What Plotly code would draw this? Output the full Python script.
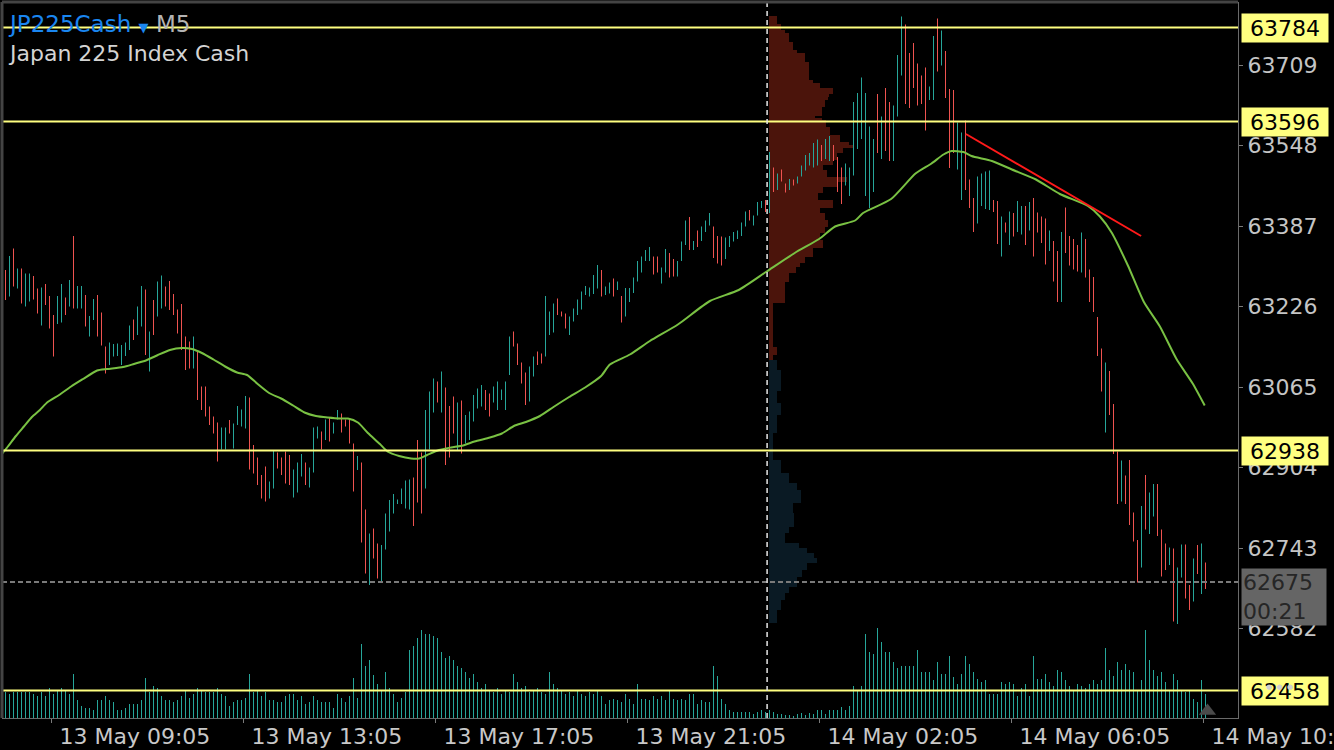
import plotly.graph_objects as go

# ------------------------------------------------------------------ data
bar_high = [
    63299,63327,63342,63302,63302,63292,63292,63287,63262,63264,
    63271,63247,63209,63247,63271,63244,63279,63367,63267,63267,
    63249,63207,63241,63249,63214,63146,63154,63151,63152,63149,
    63154,63188,63200,63226,63267,63260,63176,63239,63276,63288,
    63266,63277,63251,63220,63231,63166,63156,63166,63139,63066,
    63066,63026,63006,62994,62984,62984,62999,62992,63027,63020,
    63047,63044,62949,62924,62889,62906,62876,62938,62934,62924,
    62936,62929,62900,62914,62931,62914,62904,62984,62986,62976,
    63000,63004,62994,63019,63012,63000,63000,62952,62927,62914,
    62820,62772,62782,62752,62749,62812,62839,62851,62840,62862,
    62878,62880,62884,62959,62934,63019,63056,63082,63076,63096,
    63064,63027,63046,63034,63038,63009,63016,63049,63062,63069,
    63059,63052,63066,63076,63060,63076,63166,63176,63152,63114,
    63094,63106,63126,63136,63132,63247,63216,63232,63242,63216,
    63212,63206,63222,63240,63256,63267,63264,63289,63309,63299,
    63266,63274,63282,63276,
    63247,63263,63263,63284,63317,63326,63339,63345,63326,63326,
    63304,63341,63333,63321,63317,63356,63398,63405,63357,63378,
    63386,63398,63413,63386,63367,63366,63364,63367,63375,63378,
    63394,63416,63419,63408,63435,63437,63439,63535,63504,63492,
    63500,63472,63481,63480,63486,63508,63529,63533,63553,63560,
    63549,63561,63567,63549,63525,63504,63512,63504,63635,63653,
    63684,63653,63586,63561,63651,63606,63663,63635,63628,63729,
    63806,63790,63733,63753,63712,63688,63704,63666,63767,63802,
    63778,63737,63661,63659,63594,63574,63598,63480,63443,63486,
    63492,63496,63498,63439,63437,63406,63394,63416,63413,63437,
    63427,63427,63435,63443,63414,63406,63402,63378,63357,63337,
    63375,63424,63367,63361,63349,63374,63361,63300,63285,63205,
    63142,63114,63097,63031,62936,62918,62888,62919,62814,62759,
    62827,62889,62854,62871,62871,62780,62752,62744,62742,62704,
    62750,62750,62669,62722,62749,62752,62714,
]
bar_low = [
    63239,63246,63266,63262,63232,63226,63236,63240,63212,63188,
    63229,63182,63126,63191,63194,63209,63226,63222,63222,63222,
    63186,63166,63199,63166,63148,63092,63109,63126,63127,63109,
    63127,63139,63159,63169,63186,63129,63096,63169,63206,63222,
    63226,63219,63209,63172,63139,63099,63102,63102,63039,63019,
    63006,62989,62972,62916,62940,62940,62972,62942,62989,62986,
    62982,62900,62892,62869,62842,62836,62842,62862,62902,62889,
    62872,62869,62844,62854,62886,62869,62864,62894,62962,62940,
    62959,62956,62972,63000,62974,62986,62952,62856,62899,62754,
    62692,62669,62722,62682,62676,62740,62776,62812,62831,62831,
    62822,62820,62787,62834,62812,62862,62940,63014,63034,63014,
    62909,62924,62972,62939,62932,62952,62959,62996,63022,63026,
    63019,63006,63034,63019,63039,63019,63089,63146,63109,63072,
    63029,63036,63086,63109,63112,63126,63169,63174,63209,63206,
    63182,63169,63196,63209,63220,63249,63246,63251,63262,63246,
    63249,63252,63246,63259,
    63194,63206,63235,63253,63276,63294,63317,63317,63290,63294,
    63272,63294,63284,63286,63286,63317,63349,63339,63339,63345,
    63357,63375,63388,63323,63312,63308,63321,63345,63356,63361,
    63367,63386,63398,63388,63408,63423,63415,63413,63455,63459,
    63476,63454,63459,63468,63472,63486,63498,63508,63504,63508,
    63517,63521,63517,63517,63455,63431,63468,63447,63488,63541,
    63561,63447,63423,63455,63533,63521,63537,63517,63517,63606,
    63688,63631,63623,63663,63628,63631,63578,63639,63639,63696,
    63708,63643,63503,63533,63500,63439,63459,63423,63375,63392,
    63427,63421,63419,63415,63351,63326,63374,63349,63366,63375,
    63370,63349,63378,63326,63374,63353,63310,63337,63276,63235,
    63235,63333,63308,63300,63296,63294,63284,63235,63215,63127,
    63056,62974,63009,62931,62831,62836,62831,62789,62756,62674,
    62704,62780,62771,62806,62767,62686,62699,62709,62596,62591,
    62684,62642,62619,62636,62691,62651,62661,
]
# U = bullish bar, D = bearish bar
bar_dir = (
    "DUDUDUUDDU" "DDDUUDUDUU" "DUUDDDUUUU" "UUDUUDUDUU" "DDDDDDDUDD"
    "DDDDUUDUUU" "UDDDDDUUDD" "DDUUUDUUUD" "UDUUDDDDUD" "DUDDUUUUUU"
    "UUDDDUUUDU" "DDDUDUUUUU" "DDUUUUUDDD" "DUUDDUUUDD" "DUUUUUUUUD"
    "UUDU"
    "DUUUUUUUDD" "UUDDUUUDUD" "UUUDDDUUUU" "UUDUUUDUDU" "DDUDUUUUUU"
    "DUUDDDUUUU" "UUUUDUDDUU" "UDDDDDDUUD" "UDDDUUDDDU" "UUUDDUDUDU"
    "UDUDDDDUDD" "UDDDDUDDDD" "DUDDDUDDDD" "UDUUDDDUDU" "UDDUDUD"
)
volume = [
    26,24,26,26,26,26,26,24,22,26, 22,30,24,28,30,28,24,44,18,12,
    10,10,8,18,18,22,18,16,8,8, 10,14,14,14,18,40,26,32,30,22,
    18,18,16,18,22,28,20,24,30,28, 26,26,26,30,24,22,12,16,18,18,
    20,44,26,28,22,26,18,18,16,16, 22,24,24,18,22,14,16,22,18,16,
    16,16,10,24,20,16,22,40,20,74, 52,58,43,34,28,46,30,24,16,20,
    26,68,72,80,88,84,84,82,80,66, 60,62,
    58,52,50,46,40,44,36,
    30,34,28,26,30,24,28,26,44,36, 30,32,26,28,30,26,24,46,34,30,
    28,24,26,22,28,24,22,26,24,28,
    22,14,18,19,18,16,24,19,14,34, 19,19,18,22,19,22,18,27,19,18,
    19,18,24,24,14,18,16,16,52,42, 19,14,8,6,6,6,6,6,4,6,
    8,6,8,6,4,4,3,3,2, 4,5,3,5,4,8,8,4,8,8,
    8,11,8,12,32,28,32,84,66,64, 90,76,66,66,56,50,52,52,52,52,
    68,46,46,46,38,56,44,44,62,41, 34,44,62,54,46,39,36,38,24,24,
    24,36,34,36,34,22,30,34,22, 62,39,39,44,36,32,48,46,38,
    32,28,34,32,30,34,38,34,38,70, 48,42,56,48,54,48,46,28,38,88,
    58,48,42,46,36,28,44,38,28,26, 28,19,16,38,24,
]
ma_index = [-1.4,0.6,2.6,4.6,6.6,8.6,10.4,13.4,16.4,19.4,22.9,25.4,29.4,32.1,35.1,
            38.1,41.1,44.1,46.6,49.1,52.0,54.9,57.9,60.4,62.9,65.9,68.9,71.9,74.75,
            77.6,80.6,83.6,85.6,88.1,90.6,93.6,95.5,98.4,101.4,103.4,105.4,108.4,
            111.4,114.4,117.25,121.1,124.1,127.1,130.1,133.6,137.0,140.9,144.9,148.9,
            151.1,156.1,161.1,168.1,176.1,183.3,190.3,197.3,203.4,207.4,212.4,214.4,
            221.4,227.5,231.5,234.5,236.5,239.5,241.5,246.6,251.6,257.6,263.6,270.6,
            273.6,276.6,280.6,284.6,288.6,292.75,296.8,299.8]
ma_value = [62926,62946,62967,62986,63005,63019,63034,63049,63066,63081,63098,63101,
            63105,63111,63118,63129,63139,63143,63141,63133,63120,63106,63094,63089,
            63072,63053,63042,63028,63014,63007,63004,63002,63002,62994,62973,62951,
            62936,62927,62922,62922,62929,62939,62944,62948,62956,62964,62972,62987,
            62995,63007,63025,63045,63064,63087,63110,63130,63157,63190,63237,63259,
            63296,63333,63361,63386,63398,63413,63441,63492,63512,63530,63537,63535,
            63527,63517,63500,63480,63451,63427,63406,63373,63308,63235,63186,63121,
            63072,63028]

# session volume profile (price band top / bottom, volume)
prof_up_top = [63807,63791,63779,63773,63755,63739,63733,63715,63679,63673,63663,63651,
               63645,63639,63625,63607,63603,63599,63585,63569,63555,63549,63543,63533,
               63519,63509,63499,63485,63475,63465,63453,63439,63423,63413,63399,63385,
               63373,63359,63343,63325,63313,63305,63293,63275,63233,63145,63129]
prof_up_bot = prof_up_top[1:] + [63119]
prof_up_vol = [8,12,16,20,24,28,36,40,44,51,64,60,59,56,53,46,53,57,61,71,80,84,74,68,
               64,54,58,78,68,54,49,64,51,56,59,56,51,54,44,36,31,27,20,16,4,8,4]
prof_dn_top = [63119,63099,63057,63033,63009,62973,62919,62893,62873,62859,62833,62813,
               62785,62773,62753,62743,62733,62723,62713,62699,62685,62665,62653,62639,
               62619]
prof_dn_bot = prof_dn_top[1:] + [62593]
prof_dn_vol = [8,12,8,12,8,4,12,20,28,32,24,25,20,16,30,38,45,48,38,33,28,20,16,12,8]

levels = [63784, 63596, 62938, 62458]
current_price = 62675
countdown = "00:21"
price_ticks = [63709, 63548, 63387, 63226, 63065, 62904, 62743, 62582]
time_tick_pos = [11.6, 59.6, 107.6, 155.6, 203.6, 251.6, 299.6]
time_tick_labels = ["13 May 09:05", "13 May 13:05", "13 May 17:05", "13 May 21:05",
                    "14 May 02:05", "14 May 06:05", "14 May 10:05"]
trend_index = [240.1, 283.9]
trend_value = [63571, 63367]
session_start = 190.4

# ------------------------------------------------------------------ styles
UP = "#26a69a"
DN = "#ef5350"
FONT = "DejaVu Sans"
N = len(bar_high)

fig = go.Figure()

# volume profile
prof_base = session_start + 0.5
for tops, bots, vols, col in [(prof_up_top, prof_up_bot, prof_up_vol, "#4b140b"),
                              (prof_dn_top, prof_dn_bot, prof_dn_vol, "#0a1a24")]:
    fig.add_trace(go.Bar(
        orientation="h",
        y=[(t + b) / 2 for t, b in zip(tops, bots)],
        width=[t - b for t, b in zip(tops, bots)],
        x=[v / 4 for v in vols],
        base=prof_base,
        marker=dict(color=col, line=dict(width=0)),
        hoverinfo="skip",
    ))

# volume bars
vx, vy = [], []
for i, v in enumerate(volume):
    vx += [i, i, None]
    vy += [0, v, None]
fig.add_trace(go.Scatter(x=vx, y=vy, yaxis="y2", mode="lines",
                         line=dict(color=UP, width=1), hoverinfo="skip"))

# price bars
for d, col in [("U", UP), ("D", DN)]:
    xs, ys = [], []
    for i in range(N):
        if bar_dir[i] == d:
            xs += [i, i, None]
            ys += [bar_low[i], bar_high[i], None]
    fig.add_trace(go.Scatter(x=xs, y=ys, mode="lines",
                             line=dict(color=col, width=1), hoverinfo="skip"))

# moving average
fig.add_trace(go.Scatter(x=ma_index, y=ma_value, mode="lines",
                         line=dict(color="#79c143", width=2, shape="spline", smoothing=0.6),
                         hoverinfo="skip"))
# trend line
fig.add_trace(go.Scatter(x=trend_index, y=trend_value, mode="lines",
                         line=dict(color="#ff1a1a", width=2), hoverinfo="skip"))
# shift marker
fig.add_trace(go.Scatter(x=[N - 0.5], y=[7], yaxis="y2", mode="markers",
                         marker=dict(symbol="triangle-up", size=15, color="#4a4a4a"),
                         hoverinfo="skip"))

shapes = []
for lv in levels:
    shapes.append(dict(type="line", xref="paper", x0=0, x1=1, yref="y", y0=lv, y1=lv,
                       line=dict(color="#ffff80", width=2)))
shapes.append(dict(type="line", xref="paper", x0=0, x1=1, yref="y",
                   y0=current_price, y1=current_price,
                   line=dict(color="#7a7a7a", width=2, dash="5px,3px")))
shapes.append(dict(type="line", xref="x", x0=session_start, x1=session_start,
                   yref="paper", y0=0, y1=1,
                   line=dict(color="#e6e6e6", width=1.5, dash="5px,4px")))
# frame (top / left)
shapes.append(dict(type="line", xref="paper", x0=0, x1=1, yref="paper", y0=1, y1=1,
                   line=dict(color="#444444", width=3)))
shapes.append(dict(type="line", xref="paper", x0=0, x1=0, yref="paper", y0=0, y1=1,
                   line=dict(color="#444444", width=3)))

annotations = []
annotations.append(dict(
    xref="paper", yref="paper", x=0, y=1, xanchor="left", yanchor="top",
    xshift=4, yshift=-7, showarrow=False,
    text='<span style="color:#1a86f0">JP225Cash</span> '
         '<span style="color:#1a86f0;font-size:13px">▼</span> '
         '<span style="color:#b4b4b4">M5</span>',
    font=dict(family=FONT, size=23)))
annotations.append(dict(
    xref="paper", yref="paper", x=0, y=1, xanchor="left", yanchor="top",
    xshift=4, yshift=-37, showarrow=False, text="Japan 225 Index Cash",
    font=dict(family=FONT, size=22, color="#d4d4d4")))
for lv in levels:
    annotations.append(dict(
        xref="paper", yref="y", x=1, y=lv, xanchor="left", yanchor="middle",
        xshift=3, showarrow=False, text=str(lv), bgcolor="#ffff80",
        width=82, height=24, borderpad=2,
        font=dict(family=FONT, size=22, color="#000000")))
annotations.append(dict(
    xref="paper", yref="y", x=1, y=current_price, xanchor="left", yanchor="top",
    xshift=3, yshift=14, showarrow=False, align="left",
    text=f"{current_price}<br>{countdown}", bgcolor="#656565",
    width=82, borderpad=1,
    font=dict(family=FONT, size=22, color="#262626")))
annotations.append(dict(
    xref="paper", yref="y", x=1, y=levels[-1], xanchor="left", yanchor="middle",
    xshift=26, yshift=4, showarrow=False, text="●  ●  ●",
    font=dict(family=FONT, size=7, color="#d0d0d0")))

fig.update_layout(
    width=1334, height=750,
    margin=dict(l=2, r=96, t=2, b=32),
    paper_bgcolor="#000000", plot_bgcolor="#000000",
    showlegend=False, barmode="overlay", bargap=0,
    shapes=shapes, annotations=annotations,
    xaxis=dict(range=[-0.875, 308.125], showgrid=False, zeroline=False,
               tickmode="array", tickvals=time_tick_pos, ticktext=time_tick_labels,
               ticks="outside", ticklen=4, tickcolor="#7a7a7a", ticklabelshift=83,
               ticklabelstandoff=-5, ticklabeloverflow="allow",
               tickfont=dict(family=FONT, size=22, color="#c8c8c8"),
               showline=True, linecolor="#6a6a6a", linewidth=1,
               automargin=False, fixedrange=True),
    yaxis=dict(range=[62403, 63835], side="right", showgrid=False, zeroline=False,
               tickmode="array", tickvals=price_ticks,
               ticktext=[str(t) for t in price_ticks],
               ticks="outside", ticklen=4, tickcolor="#7a7a7a",
               tickfont=dict(family=FONT, size=22, color="#c5c5c5"),
               showline=True, linecolor="#6a6a6a", linewidth=1,
               automargin=False, fixedrange=True),
    yaxis2=dict(range=[0, 716], overlaying="y", visible=False, fixedrange=True),
)

fig.write_html("out.html")
